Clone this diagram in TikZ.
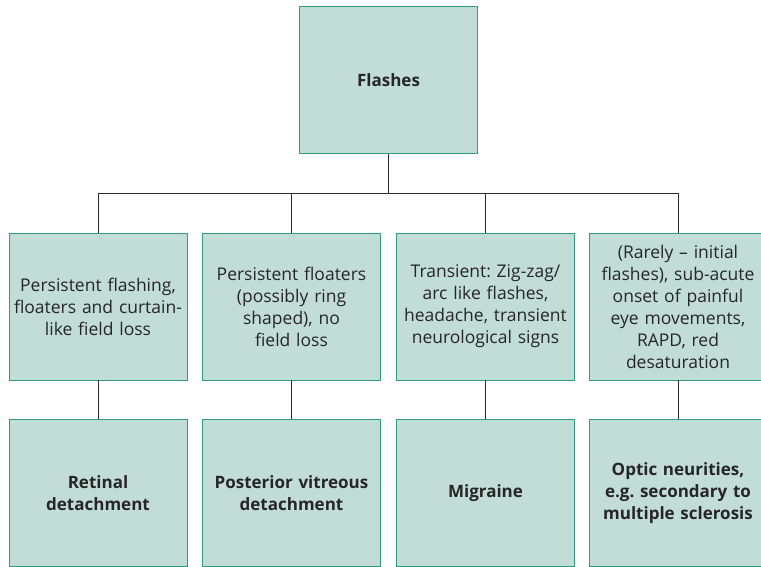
\documentclass[tikz,border=0pt]{standalone}
\usepackage{fontspec}
\setmainfont{Open Sans}
\definecolor{boxfill}{HTML}{C2DDD6}
\definecolor{boxline}{HTML}{2E9C7E}
\definecolor{wire}{HTML}{2A2A2A}
\begin{document}
\frenchspacing
\begin{tikzpicture}[x=1pt,y=-1pt,line width=0.9pt,
    main node/.style={rectangle,draw=boxline,fill=boxfill,minimum width=178pt,minimum height=147pt,text width=178pt,inner sep=0pt,align=center,font=\fontsize{17.5}{22}\selectfont,text=black!85},
    end node/.style={main node,font=\fontsize{17}{22}\selectfont\bfseries}]
        \useasboundingbox (0,0) rectangle (761,566);
        \clip (0,0) rectangle (761,566);
        \node[end node] at (388.5, 80) (flash) {Flashes};

        \node[main node] at (98, 306.5) (a) {Persistent flashing,\\floaters and curtain-\\like field loss};
        \node[main node] at (291.5, 306.5) (b) {Persistent floaters\\(possibly ring\\shaped), no\\field loss};
        \node[main node] at (485.5, 306.5) (c) {Transient: Zig-zag/\\arc like flashes,\\headache, transient\\neurological signs};
        \node[main node] at (678, 306.5) (d) {(Rarely – initial\\flashes), sub-acute\\onset of painful\\eye movements,\\RAPD, red\\desaturation};

        \node[end node] at (98, 493) (rd) {Retinal\\detachment};
        \node[end node] at (291.5, 493) (pvd) {Posterior vitreous\\detachment};
        \node[end node] at (485.5, 493) (mig) {Migraine};
        \node[end node] at (678, 493) (on) {Optic neurities,\\e.g. secondary to\\multiple sclerosis};

        \coordinate (bus) at (388.5, 193);
        \draw[wire] (flash) -- (bus);
        \draw[wire] (bus) -| (a);
        \draw[wire] (bus) -| (b);
        \draw[wire] (bus) -| (c);
        \draw[wire] (bus) -| (d);

        \draw[wire] (a) -- (rd);
        \draw[wire] (b) -- (pvd);
        \draw[wire] (c) -- (mig);
        \draw[wire] (d) -- (on);
    \end{tikzpicture}
\end{document}
